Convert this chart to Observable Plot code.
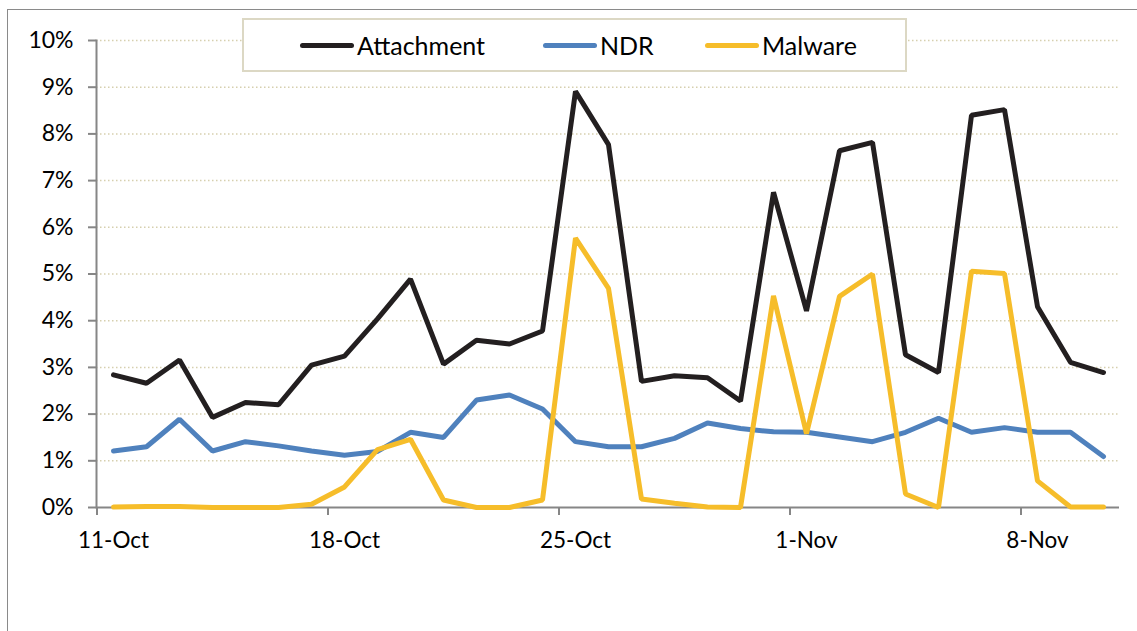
<!DOCTYPE html>
<html>
<head>
<meta charset="utf-8">
<script src="https://cdn.jsdelivr.net/npm/d3@7"></script>
<script src="https://cdn.jsdelivr.net/npm/@observablehq/plot@0.6"></script>
<style>
  html, body { margin: 0; padding: 0; background: #fff; }
  body { width: 1137px; height: 631px; position: relative; overflow: hidden; font-family: Lato, "Open Sans", sans-serif; }
  #chart { position: absolute; left: 0; top: 0; }
  #frame { position: absolute; left: 7px; top: 9px; width: 1300px; height: 800px; border: 1px solid #8a8a8a; pointer-events: none; }
  #legend { position: absolute; left: 242px; top: 18px; width: 661px; height: 50px; border: 2px solid #dcd8c4; background: #fff; box-sizing: content-box; }
  .item { position: absolute; top: 0; height: 50px; display: flex; align-items: center; font-size: 25px; color: #000; }
  .sw { display: inline-block; width: 54px; height: 5px; border-radius: 3px; margin-right: 3px; }
</style>
</head>
<body>
<div id="chart"></div>
<div id="legend"></div>
<div id="frame"></div>
<script>
const dates = ["11-Oct","12-Oct","13-Oct","14-Oct","15-Oct","16-Oct","17-Oct","18-Oct","19-Oct","20-Oct",
  "21-Oct","22-Oct","23-Oct","24-Oct","25-Oct","26-Oct","27-Oct","28-Oct","29-Oct","30-Oct","31-Oct",
  "1-Nov","2-Nov","3-Nov","4-Nov","5-Nov","6-Nov","7-Nov","8-Nov","9-Nov","10-Nov"];
const attachment = [2.84,2.66,3.16,1.93,2.25,2.20,3.05,3.24,4.04,4.89,
  3.07,3.58,3.50,3.78,8.91,7.77,2.70,2.82,2.78,2.28,6.75,
  4.21,7.64,7.82,3.27,2.89,8.40,8.52,4.30,3.11,2.89];
const ndr = [1.21,1.30,1.89,1.21,1.41,1.32,1.21,1.12,1.20,1.61,
  1.50,2.30,2.41,2.11,1.41,1.30,1.30,1.48,1.81,1.69,1.62,
  1.61,1.51,1.41,1.61,1.91,1.61,1.71,1.61,1.61,1.09];
const malware = [0.01,0.02,0.02,0.00,0.00,0.00,0.07,0.44,1.24,1.46,
  0.16,0.00,0.00,0.16,5.77,4.69,0.18,0.09,0.01,0.00,4.53,
  1.58,4.52,5.00,0.29,0.00,5.06,5.01,0.57,0.01,0.01];
const seriesNames = ["Attachment","NDR","Malware"];
const seriesColors = ["#231f20","#4f81bd","#f6bd2a"];
const xTickLabels = ["11-Oct","18-Oct","25-Oct","1-Nov","8-Nov"];
const yTicks = [0,1,2,3,4,5,6,7,8,9,10];

const values = [attachment, ndr, malware];
const rows = [];
seriesNames.forEach((s, i) => dates.forEach((d, j) => rows.push({series: s, date: d, value: values[i][j]})));

const W = 1137, H = 631, mL = 96, mR = 18, mT = 40, mB = 124;
const step = (W - mL - mR) / dates.length;
const tickLen = 8 * 10 / (H - mT - mB);

const chart = Plot.plot({
  width: W, height: H,
  marginLeft: mL, marginRight: mR, marginTop: mT, marginBottom: mB,
  style: {background: "transparent", fontFamily: "Lato, 'Open Sans', sans-serif", fontSize: "22px", color: "#000"},
  x: {type: "point", domain: dates, padding: 0.5},
  y: {domain: [0, 10]},
  color: {domain: seriesNames, range: seriesColors},
  marks: [
    Plot.gridY(yTicks.filter(d => d > 0), {stroke: "#d6cfae", strokeOpacity: 1, strokeWidth: 1.5, strokeDasharray: "1.5,2.5"}),
    Plot.frame({anchor: "left", stroke: "#868686", strokeWidth: 2}),
    Plot.ruleY([0], {stroke: "#868686", strokeWidth: 2}),
    Plot.ruleX(xTickLabels, {x: d => d, y1: 0, y2: -tickLen, dx: -step / 2, stroke: "#868686", strokeWidth: 2}),
    Plot.axisY({ticks: yTicks, tickFormat: d => d + "%", tickSize: 8, tickPadding: 15, stroke: "#868686", strokeWidth: 2, fontSize: 23, fill: "#000", label: null}),
    Plot.axisX({ticks: xTickLabels, tickSize: 0, tickPadding: 25, fontSize: 22.5, fill: "#000", label: null}),
    Plot.line(rows, {x: "date", y: "value", z: "series", stroke: "series", strokeWidth: 5, strokeLinejoin: "miter", strokeLinecap: "round"})
  ]
});
document.getElementById("chart").appendChild(chart);

const legend = document.getElementById("legend");
const itemLeft = [56, 299, 461];
seriesNames.forEach((s, i) => {
  const el = document.createElement("div");
  el.className = "item";
  el.style.left = itemLeft[i] + "px";
  el.innerHTML = `<span class="sw" style="background:${seriesColors[i]}"></span><span>${s}</span>`;
  legend.appendChild(el);
});
</script>
</body>
</html>
